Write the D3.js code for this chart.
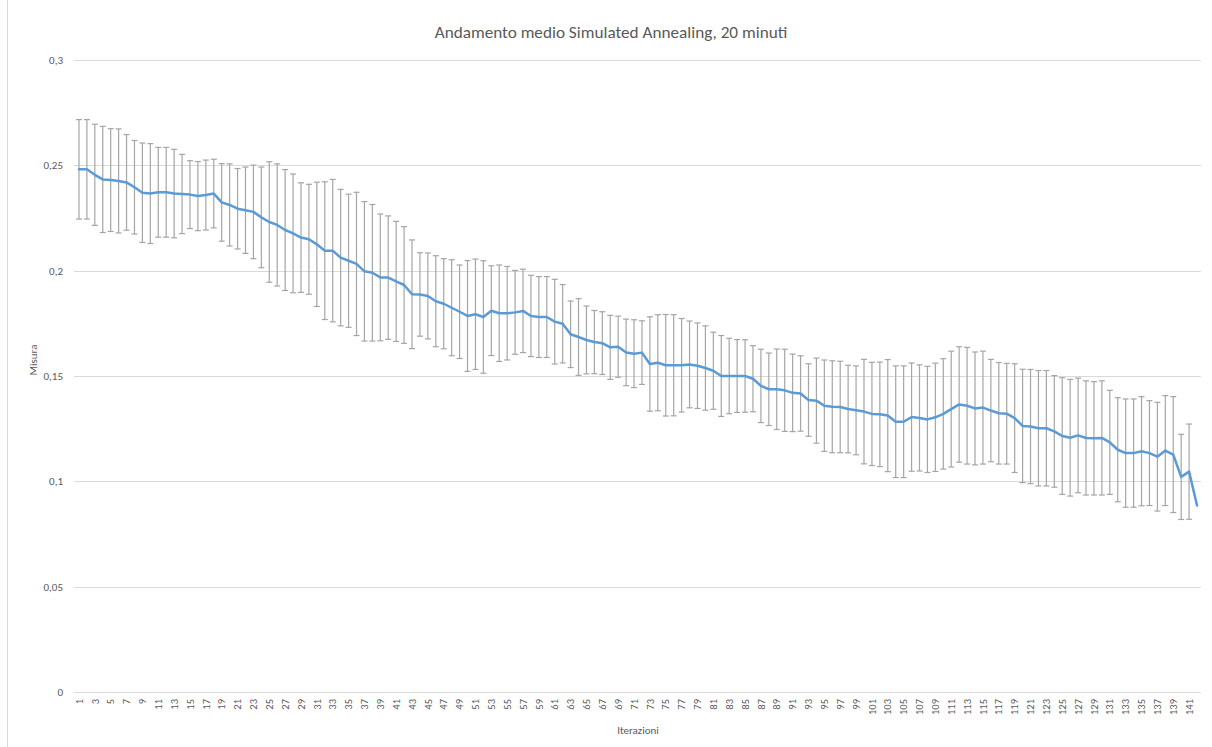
<!DOCTYPE html>
<html lang="it">

<head>
    <meta charset="UTF-8">
    <script src="https://d3js.org/d3.v7.min.js"></script>
    <title>Andamento medio Simulated Annealing</title>
    <style>
        body { margin: 0; background: #fff; }
        svg text { font-family: Calibri, Carlito, Lato, sans-serif; fill: #595959; }
    </style>
</head>

<body>
    <svg id="chart" width="1212" height="747"></svg>

    <script>
        // Data
        const iterations = d3.range(1, 143);
        const meanValues = [
            0.2481, 0.2481, 0.2455, 0.2433, 0.2430, 0.2426, 0.2419, 0.2396, 0.2370, 0.2366,
            0.2372, 0.2372, 0.2366, 0.2364, 0.2361, 0.2354, 0.2359, 0.2366, 0.2324, 0.2312,
            0.2294, 0.2287, 0.2279, 0.2253, 0.2231, 0.2217, 0.2193, 0.2177, 0.2157, 0.2149,
            0.2125, 0.2095, 0.2095, 0.2062, 0.2047, 0.2032, 0.1997, 0.1990, 0.1968, 0.1967,
            0.1949, 0.1932, 0.1888, 0.1887, 0.1880, 0.1855, 0.1843, 0.1824, 0.1805, 0.1785,
            0.1793, 0.1780, 0.1810, 0.1798, 0.1798, 0.1802, 0.1809, 0.1785, 0.1780, 0.1780,
            0.1758, 0.1748, 0.1698, 0.1685, 0.1671, 0.1661, 0.1656, 0.1636, 0.1639, 0.1612,
            0.1606, 0.1611, 0.1557, 0.1563, 0.1551, 0.1551, 0.1551, 0.1555, 0.1549, 0.1538,
            0.1525, 0.1500, 0.1500, 0.1500, 0.1500, 0.1487, 0.1453, 0.1437, 0.1437, 0.1432,
            0.1420, 0.1417, 0.1386, 0.1383, 0.1359, 0.1354, 0.1353, 0.1343, 0.1337, 0.1331,
            0.1320, 0.1318, 0.1312, 0.1283, 0.1283, 0.1305, 0.1301, 0.1294, 0.1304, 0.1320,
            0.1343, 0.1365, 0.1359, 0.1346, 0.1350, 0.1336, 0.1323, 0.1321, 0.1300, 0.1263,
            0.1260, 0.1252, 0.1252, 0.1237, 0.1215, 0.1207, 0.1218, 0.1206, 0.1204, 0.1206,
            0.1185, 0.1150, 0.1134, 0.1134, 0.1143, 0.1134, 0.1117, 0.1146, 0.1127, 0.1021,
            0.1046, 0.0885
        ];
        const errorValues = [
            0.0236, 0.0236, 0.0240, 0.0252, 0.0244, 0.0247, 0.0227, 0.0222, 0.0236, 0.0237,
            0.0213, 0.0213, 0.0210, 0.0188, 0.0161, 0.0164, 0.0166, 0.0163, 0.0184, 0.0195,
            0.0191, 0.0205, 0.0222, 0.0239, 0.0286, 0.0290, 0.0287, 0.0282, 0.0260, 0.0261,
            0.0295, 0.0327, 0.0338, 0.0324, 0.0316, 0.0340, 0.0331, 0.0324, 0.0301, 0.0293,
            0.0285, 0.0277, 0.0258, 0.0198, 0.0204, 0.0216, 0.0214, 0.0228, 0.0222, 0.0263,
            0.0262, 0.0267, 0.0213, 0.0229, 0.0222, 0.0199, 0.0198, 0.0193, 0.0192, 0.0192,
            0.0201, 0.0186, 0.0158, 0.0182, 0.0161, 0.0150, 0.0149, 0.0152, 0.0145, 0.0158,
            0.0161, 0.0151, 0.0224, 0.0228, 0.0241, 0.0240, 0.0222, 0.0206, 0.0203, 0.0200,
            0.0183, 0.0192, 0.0179, 0.0173, 0.0172, 0.0157, 0.0174, 0.0172, 0.0191, 0.0195,
            0.0184, 0.0179, 0.0172, 0.0202, 0.0217, 0.0218, 0.0217, 0.0208, 0.0211, 0.0248,
            0.0245, 0.0248, 0.0266, 0.0265, 0.0265, 0.0257, 0.0252, 0.0252, 0.0257, 0.0262,
            0.0275, 0.0274, 0.0277, 0.0268, 0.0268, 0.0243, 0.0241, 0.0239, 0.0258, 0.0269,
            0.0271, 0.0274, 0.0274, 0.0265, 0.0277, 0.0277, 0.0272, 0.0271, 0.0269, 0.0271,
            0.0247, 0.0247, 0.0257, 0.0257, 0.0259, 0.0249, 0.0258, 0.0261, 0.0275, 0.0202,
            0.0226, 0
        ];
        const yTicks = [0, 0.05, 0.1, 0.15, 0.2, 0.25, 0.3];
        const xTickLabels = iterations.filter(d => d % 2 === 1);

        const titleText = "Andamento medio Simulated Annealing, 20 minuti";
        const yTitle = "Misura";
        const xTitle = "Iterazioni";

        const svg = d3.select("svg#chart");
        const plot = { left: 75, right: 1201, top: 60, bottom: 692 };

        const data = iterations.map((d, i) => ({ it: d, mean: meanValues[i], err: errorValues[i] }));

        const x = d3.scaleBand().domain(iterations).range([plot.left, plot.right]);
        const y = d3.scaleLinear().domain([0, 0.3]).range([plot.bottom, plot.top]);
        const cx = d => x(d) + x.bandwidth() / 2;

        // outer chart border (left edge is the only one inside the picture)
        svg.append("line")
            .attr("x1", 7.5).attr("x2", 7.5)
            .attr("y1", 0).attr("y2", 747)
            .attr("stroke", "#d9d9d9");

        // horizontal gridlines
        svg.append("g").attr("class", "grid")
            .selectAll("line").data(yTicks)
            .join("line")
            .attr("x1", plot.left - 1).attr("x2", plot.right)
            .attr("y1", d => Math.round(y(d)) + 0.5)
            .attr("y2", d => Math.round(y(d)) + 0.5)
            .attr("stroke", "#d9d9d9")
            .attr("stroke-width", 1);

        // y axis labels
        const leftAxis = d3.axisLeft(y)
            .tickValues(yTicks)
            .tickSize(0)
            .tickPadding(11)
            .tickFormat(d => String(d).replace(".", ","));
        const gy = svg.append("g")
            .attr("transform", `translate(${plot.left - 1},0)`)
            .call(leftAxis);
        gy.select(".domain").remove();
        gy.selectAll("text").style("font-size", "11px").attr("fill", "#595959");

        // x axis labels
        const bottomAxis = d3.axisBottom(x)
            .tickValues(xTickLabels)
            .tickSize(0);
        const gx = svg.append("g")
            .attr("transform", `translate(0,${plot.bottom})`)
            .call(bottomAxis);
        gx.select(".domain").remove();
        gx.selectAll("text")
            .attr("x", -7)
            .attr("y", 0)
            .attr("dy", "0.35em")
            .attr("transform", "rotate(-90)")
            .style("text-anchor", "end")
            .style("font-size", "10.5px")
            .attr("fill", "#595959");

        // error bars
        const bars = svg.append("g").attr("class", "errorbars")
            .selectAll("g").data(data.filter(d => d.err > 0))
            .join("g");
        bars.append("line")
            .attr("x1", d => cx(d.it)).attr("x2", d => cx(d.it))
            .attr("y1", d => y(d.mean + d.err)).attr("y2", d => y(d.mean - d.err));
        bars.append("line")
            .attr("x1", d => cx(d.it) - 3).attr("x2", d => cx(d.it) + 3)
            .attr("y1", d => y(d.mean + d.err)).attr("y2", d => y(d.mean + d.err));
        bars.append("line")
            .attr("x1", d => cx(d.it) - 3).attr("x2", d => cx(d.it) + 3)
            .attr("y1", d => y(d.mean - d.err)).attr("y2", d => y(d.mean - d.err));
        bars.selectAll("line")
            .attr("stroke", "#a5a5a5")
            .attr("stroke-width", 1.2);

        // mean line
        const line = d3.line().x(d => cx(d.it)).y(d => y(d.mean));
        svg.append("path")
            .datum(data)
            .attr("d", line)
            .attr("fill", "none")
            .attr("stroke", "#5b9bd5")
            .attr("stroke-width", 2.5)
            .attr("stroke-linejoin", "round")
            .attr("stroke-linecap", "round");

        // titles
        svg.append("text")
            .attr("x", 611).attr("y", 38)
            .attr("text-anchor", "middle")
            .style("font-size", "17.2px")
            .text(titleText);

        svg.append("text")
            .attr("transform", "translate(37,360) rotate(-90)")
            .attr("text-anchor", "middle")
            .style("font-size", "11px")
            .text(yTitle);

        svg.append("text")
            .attr("x", (plot.left + plot.right) / 2).attr("y", 734)
            .attr("text-anchor", "middle")
            .style("font-size", "11px")
            .text(xTitle);
    </script>
</body>

</html>
